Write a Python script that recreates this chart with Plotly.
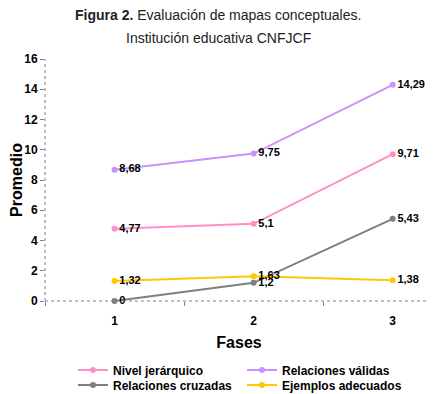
import plotly.graph_objects as go

fases = [1, 2, 3]
fase_labels = ["1", "2", "3"]
nivel = [4.77, 5.10, 9.71]
validas = [8.68, 9.75, 14.29]
cruzadas = [0.0, 1.2, 5.43]
ejemplos = [1.32, 1.63, 1.38]

nivel_txt = ["4,77", "5,1", "9,71"]
validas_txt = ["8,68", "9,75", "14,29"]
cruzadas_txt = ["0", "1,2", "5,43"]
ejemplos_txt = ["1,32", "1,63", "1,38"]

series = [
    ("Nivel jerárquico", nivel, nivel_txt, "#FF8FC8", "legend"),
    ("Relaciones válidas", validas, validas_txt, "#C993FF", "legend"),
    ("Relaciones cruzadas", cruzadas, cruzadas_txt, "#7F7F7F", "legend2"),
    ("Ejemplos adecuados", ejemplos, ejemplos_txt, "#FFC800", "legend2"),
]

fig = go.Figure()
for name, vals, txt, col, leg in series:
    fig.add_trace(go.Scatter(
        x=fases, y=vals, name=name, mode="lines+markers+text",
        text=txt, textposition="middle right",
        textfont=dict(family="Liberation Sans, Arial", size=11, color="black", weight="bold"),
        line=dict(color=col, width=2),
        marker=dict(color=col, size=6, symbol="circle"),
        cliponaxis=False, legend=leg,
    ))

OFF = 8  # page body margin
W, H = 437, 394
L, T = 45 - OFF, 59 - OFF
R = W - (433 - OFF)
B = H - (301 - OFF)
pw, ph = W - L - R, H - T - B

def px_x(v):
    return (v - OFF - L) / pw

def px_y(v):
    return (H - B - (v - OFF)) / ph

leg_common = dict(orientation="h", xanchor="left", yanchor="middle",
                  entrywidth=124, entrywidthmode="pixels", tracegroupgap=0,
                  font=dict(size=12, weight="bold"), itemwidth=30,
                  bgcolor="rgba(0,0,0,0)")

fig.update_layout(
    width=W, height=H,
    margin=dict(l=L, r=R, t=T, b=B, autoexpand=False),
    paper_bgcolor="white", plot_bgcolor="white",
    font=dict(family="Liberation Sans, Arial", color="black"),
    showlegend=True,
    legend=dict(x=px_x(73), y=px_y(370), **leg_common),
    legend2=dict(x=px_x(73), y=px_y(385), **leg_common),
    xaxis=dict(range=[0.5, 3.29], tickvals=fases, ticktext=fase_labels,
               ticks="", showgrid=False, zeroline=False, showline=False,
               tickfont=dict(size=12, weight="bold"), ticklabelstandoff=11,
               title=dict(text="<b>Fases</b>", font=dict(size=16), standoff=9),
               minor=dict(ticks="outside", ticklen=4, tick0=0.5, dtick=1,
                          tickcolor="#808080", showgrid=False)),
    yaxis=dict(range=[0, 16], dtick=2, ticks="outside", ticklen=4,
               tickcolor="#808080", showgrid=False, zeroline=False, showline=False,
               tickfont=dict(size=12, weight="bold"),
               title=dict(text="<b>Promedio</b>", font=dict(size=16), standoff=6)),
    annotations=[
        dict(text="<b>Figura 2.</b> Evaluación de mapas conceptuales.", x=px_x(218), y=px_y(15),
             xref="paper", yref="paper", xanchor="center", yanchor="middle",
             showarrow=False, font=dict(size=14, color="#222")),
        dict(text="Institución educativa CNFJCF", x=px_x(218), y=px_y(38),
             xref="paper", yref="paper", xanchor="center", yanchor="middle",
             showarrow=False, font=dict(size=14, color="#222")),
    ],
    shapes=[
        dict(type="line", xref="paper", yref="paper", x0=0, x1=0, y0=0, y1=1,
             line=dict(color="#808080", width=1, dash="dot")),
        dict(type="line", xref="paper", yref="paper", x0=0, x1=1, y0=0, y1=0,
             line=dict(color="#808080", width=1, dash="dot")),
    ],
)
fig.write_html("out.html")
